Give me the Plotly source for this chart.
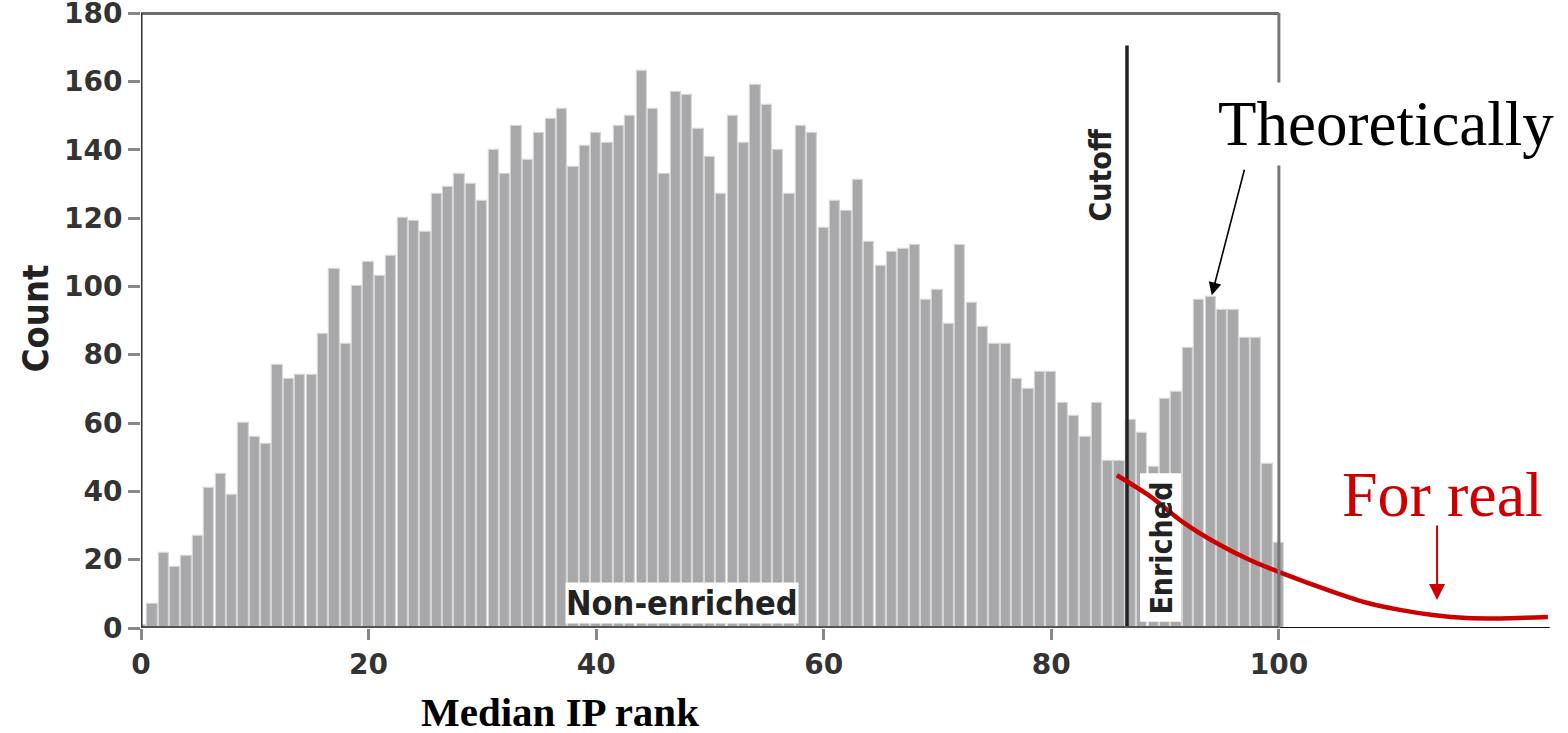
import plotly.graph_objects as go

# ---- data ----
ranks = list(range(0, 101))
counts = [1, 7, 22, 18, 21, 27, 41, 45, 39, 60,
          56, 54, 77, 73, 74, 74, 86, 105, 83, 100,
          107, 103, 109, 120, 119, 116, 127, 129, 133, 130,
          125, 140, 133, 147, 137, 145, 149, 152, 135, 141,
          145, 142, 147, 150, 163, 152, 133, 157, 156, 146,
          138, 127, 150, 142, 159, 153, 140, 127, 147, 145,
          117, 125, 122, 131, 113, 106, 110, 111, 112, 96,
          99, 89, 112, 95, 88, 83, 83, 73, 70, 75,
          75, 66, 62, 56, 66, 49, 49, 61, 57, 47,
          67, 69, 82, 96, 97, 93, 93, 85, 85, 48,
          25]

real_x = [85.76, 88.66, 91.56, 94.55, 97.45, 100.09, 104.75,
          107.73, 110.63, 113.53, 116.52, 119.42, 123.64]
real_y = [44.7, 38.6, 31.0, 24.8, 19.9, 16.3, 10.6,
          7.4, 5.3, 3.8, 2.9, 2.8, 3.2]

cutoff = 86.65
x_ticks = [0, 20, 40, 60, 80, 100]
y_ticks = [0, 20, 40, 60, 80, 100, 120, 140, 160, 180]

fig = go.Figure()

fig.add_trace(go.Bar(x=ranks, y=counts, width=0.9,
                     marker=dict(color="#a8a8ab", line=dict(color="#d6d6d6", width=1.2)),
                     hoverinfo="skip"))

# white box behind "Enriched" (drawn as a trace so the red curve is above it)
fig.add_trace(go.Scatter(x=[87.8, 91.4, 91.4, 87.8, 87.8], y=[1.8, 1.8, 45.3, 45.3, 1.8],
                         fill="toself", fillcolor="white", line=dict(width=0),
                         mode="lines", hoverinfo="skip"))

# cutoff line
fig.add_trace(go.Scatter(x=[cutoff, cutoff], y=[0, 170.5], mode="lines",
                         line=dict(color="#222222", width=3.5), hoverinfo="skip"))

# baseline extension
fig.add_trace(go.Scatter(x=[100, 123.8], y=[0, 0], mode="lines",
                         line=dict(color="#111111", width=1.8), hoverinfo="skip"))

# red "for real" curve
fig.add_trace(go.Scatter(x=real_x, y=real_y, mode="lines",
                         line=dict(color="#cc0000", width=4.5, shape="spline", smoothing=0.8),
                         hoverinfo="skip"))

lab_font = dict(family="DejaVu Sans Condensed, DejaVu Sans", size=30, color="#222222", weight="bold")
serif = "Liberation Serif, Times New Roman, serif"

# frame shapes
fig.add_shape(type="line", x0=0, x1=100, y0=180, y1=180, line=dict(color="#6e6e6e", width=4), layer="above")
fig.add_shape(type="line", x0=100, x1=100, y0=0, y1=180, line=dict(color="#777777", width=3), layer="above")
fig.add_shape(type="line", x0=0, x1=100, y0=0, y1=0, line=dict(color="#555555", width=4), layer="above")
fig.add_shape(type="line", x0=0, x1=0, y0=0, y1=180, line=dict(color="#333333", width=3), layer="above")

annotations = [
    dict(x=47.5, y=7.3, text="Non-enriched", showarrow=False,
         font=dict(family="DejaVu Sans Condensed, DejaVu Sans", size=34, color="#222222", weight="bold"),
         bgcolor="white", borderpad=0),
    dict(x=84.3, y=132.5, text="Cutoff", showarrow=False, font=lab_font, textangle=-90),
    dict(x=89.6, y=23.4, text="Enriched", showarrow=False, font=lab_font, textangle=-90),
    dict(x=109.4, y=147.6, text="Theoretically", showarrow=False,
         font=dict(family=serif, size=63, color="black"), bgcolor="white", borderpad=6),
    dict(x=94.1, y=97.4, ax=33, ay=-127, text="", showarrow=True, arrowhead=2,
         arrowsize=1.6, arrowwidth=1.6, arrowcolor="black"),
    dict(x=114.4, y=39.2, text="For real", showarrow=False,
         font=dict(family=serif, size=64, color="#cc0000")),
    dict(x=113.9, y=8.2, ax=0, ay=-76, text="", showarrow=True, arrowhead=2,
         arrowsize=1.6, arrowwidth=2, arrowcolor="#cc0000"),
    dict(xref="paper", yref="paper", x=-0.0751, y=0.503, xanchor="center", yanchor="middle",
         text="Count", showarrow=False, textangle=-90,
         font=dict(family="DejaVu Sans Condensed, DejaVu Sans", size=36, color="#222222", weight="bold")),
    dict(xref="paper", yref="paper", x=0.297, y=-0.136, xanchor="center", yanchor="middle",
         text="Median IP rank", showarrow=False,
         font=dict(family=serif, size=41, color="black", weight="bold")),
]

fig.update_layout(
    width=1568, height=733,
    margin=dict(l=141, r=16, t=12, b=105, autoexpand=False),
    paper_bgcolor="white", plot_bgcolor="white",
    showlegend=False,
    bargap=0,
    annotations=annotations,
    xaxis=dict(range=[0, 124], tickvals=x_ticks, ticktext=[str(v) for v in x_ticks],
               showgrid=False, zeroline=False, showline=False, automargin=False,
               ticks="outside", ticklen=11, tickwidth=3, tickcolor="#888888",
               tickfont=dict(family="DejaVu Sans", size=28, color="#333333", weight="bold")),
    yaxis=dict(range=[0, 180.3], tickvals=y_ticks, ticktext=[str(v) for v in y_ticks],
               showgrid=False, zeroline=False, showline=False, ticklabeloverflow="allow",
               automargin=False,
               ticks="outside", ticklen=12, tickwidth=3, tickcolor="#888888",
               tickfont=dict(family="DejaVu Sans", size=28, color="#333333", weight="bold")),
)

fig.write_html("out.html")
